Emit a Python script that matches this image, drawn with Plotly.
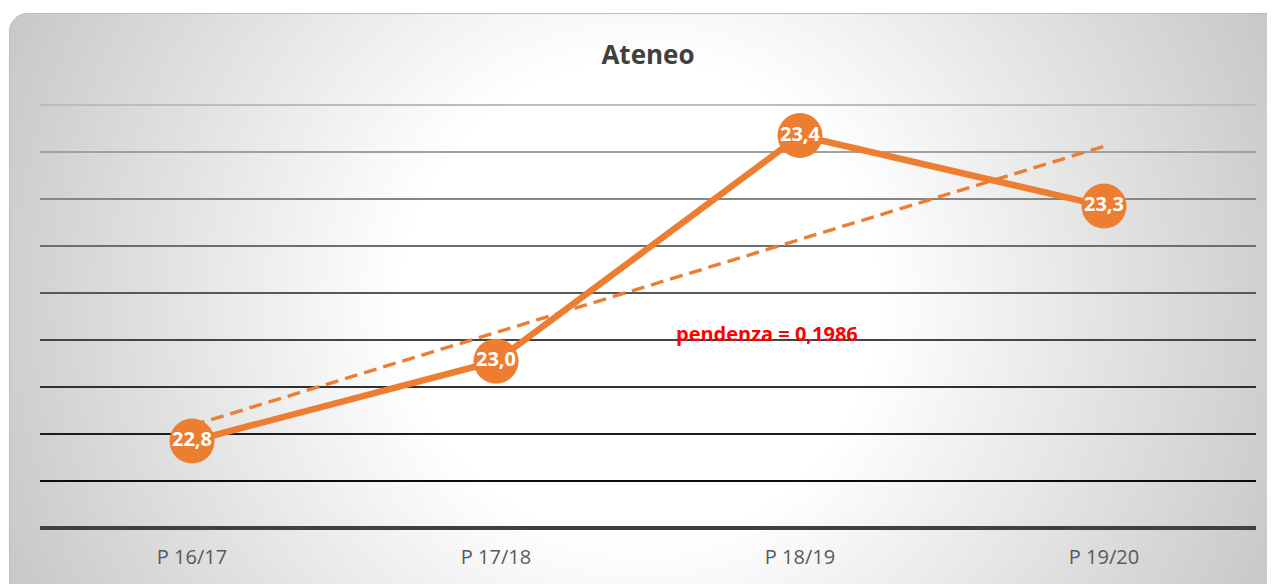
import base64
import numpy as np
import plotly.graph_objects as go

# ---- data ----
categories = ["P 16/17", "P 17/18", "P 18/19", "P 19/20"]
values = [22.785, 22.955, 23.435, 23.285]
y_min, y_max = 22.6, 23.5
grid_levels = [22.7, 22.8, 22.9, 23.0, 23.1, 23.2, 23.3, 23.4, 23.5]
grid_colors = ["#0c0c0c", "#1c1c1c", "#303030", "#444444", "#585858",
               "#6e6e6e", "#868686", "#a0a0a0", "#bcbcbc"]
title_text = "Ateneo"
slope_text = "pendenza = 0,1986"

ORANGE = "#ED7D31"
OFF = 8                      # browser body margin
W, H = 1275 - OFF, 584 - OFF
L, R, T, B = 40 - OFF, 19, 105 - OFF, 56
plot_w = W - L - R
plot_h = H - T - B

x_idx = np.arange(1, len(categories) + 1)
coef = np.polyfit(x_idx, values, 1)
trend = np.polyval(coef, x_idx)

# ---- card background (rounded rect with radial gradient) ----
cx0, cy0, cx1, cy1 = 9 - OFF, 13 - OFF, 1290 - OFF, 600 - OFF
cw, ch = cx1 - cx0, cy1 - cy0
svg = f'''<svg xmlns="http://www.w3.org/2000/svg" width="{cw}" height="{ch}" viewBox="0 0 {cw} {ch}" preserveAspectRatio="none">
<defs><radialGradient id="g" gradientUnits="userSpaceOnUse" cx="{640-9}" cy="{300-13}" r="720">
<stop offset="0" stop-color="#ffffff"/><stop offset="0.33" stop-color="#ffffff"/>
<stop offset="1" stop-color="#c4c4c4"/></radialGradient></defs>
<rect x="0.5" y="0.5" width="{cw-1}" height="{ch-1}" rx="18" ry="18" fill="url(#g)" stroke="#bdbdbd" stroke-width="1"/>
</svg>'''
src = "data:image/svg+xml;base64," + base64.b64encode(svg.encode()).decode()

fig = go.Figure()

fig.add_trace(go.Scatter(
    x=x_idx, y=trend, mode="lines",
    line=dict(color=ORANGE, width=3.4, dash="13px,7px"),
    hoverinfo="skip", showlegend=False,
))
fig.add_trace(go.Scatter(
    x=x_idx, y=values, mode="lines+markers+text",
    line=dict(color=ORANGE, width=6.5),
    marker=dict(size=45, color=ORANGE, line=dict(width=0)),
    texttemplate="%{y:.1f}", textposition="middle center",
    textfont=dict(family="Open Sans", size=20, color="white", weight="bold"),
    showlegend=False,
))

def to_paper(v):
    return (v - y_min) / (y_max - y_min)

shapes = []
for lv, col in zip(grid_levels, grid_colors):
    shapes.append(dict(type="line", xref="paper", yref="paper", x0=0, x1=1,
                       y0=to_paper(lv), y1=to_paper(lv),
                       line=dict(color=col, width=2), layer="below"))
shapes.append(dict(type="line", xref="paper", yref="paper", x0=0, x1=1, y0=0, y1=0,
                   line=dict(color="#404040", width=4), layer="below"))

fig.update_layout(
    width=W, height=H,
    margin=dict(l=L, r=R, t=T, b=B),
    paper_bgcolor="white", plot_bgcolor="rgba(0,0,0,0)",
    separators=",.",
    title=dict(text=title_text, x=0.5, xref="paper", y=1 - (55 - OFF) / H, yref="container",
               xanchor="center", yanchor="middle",
               font=dict(family="Open Sans", size=26, color="#404040", weight="bold")),
    xaxis=dict(range=[0.5, 4.5], tickvals=list(x_idx), ticktext=categories,
               showgrid=False, zeroline=False, showline=False, ticks="",
               ticklabelstandoff=15,
               tickfont=dict(family="Open Sans", size=20, color="#595959")),
    yaxis=dict(range=[y_min, y_max], showgrid=False, zeroline=False, showline=False,
               showticklabels=False, ticks=""),
    shapes=shapes,
    images=[dict(source=src, xref="paper", yref="paper",
                 x=(cx0 - L) / plot_w, y=(H - B - cy0) / plot_h,
                 sizex=cw / plot_w, sizey=ch / plot_h,
                 xanchor="left", yanchor="top", sizing="stretch", layer="below")],
    annotations=[dict(text=slope_text, x=2.89, y=23.013, xref="x", yref="y",
                      showarrow=False, xanchor="center", yanchor="middle",
                      font=dict(family="Open Sans", size=20, color="#FF0000", weight="bold"))],
)

fig.write_html("out.html")
